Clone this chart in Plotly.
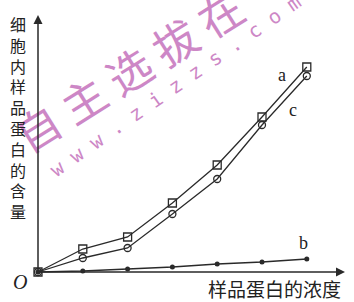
import plotly.graph_objects as go

# Data (arbitrary units)
concentration = [0, 1, 2, 3, 4, 5, 6]
series_a = [0, 2.3, 3.5, 6.9, 10.7, 15.5, 20.5]
series_c = [0, 1.4, 2.4, 5.8, 9.3, 14.7, 19.6]
series_b = [0, 0.1, 0.3, 0.5, 0.8, 1.0, 1.3]
series_names = ["a", "c", "b"]
y_title = "细胞内样品蛋白的含量"
x_title = "样品蛋白的浓度"
watermark_big = "自主选拔在"
watermark_url = "www.zizzs.com"

LINE = "#2a2a2a"
PINK = "rgb(205,135,198)"

fig = go.Figure()
fig.add_trace(go.Scatter(x=concentration, y=series_a, mode="lines+markers",
                         line=dict(color=LINE, width=1.3),
                         marker=dict(symbol="square-open", size=8, color=LINE, line=dict(width=1.3)),
                         cliponaxis=False, showlegend=False))
fig.add_trace(go.Scatter(x=concentration, y=series_c, mode="lines+markers",
                         line=dict(color=LINE, width=1.3),
                         marker=dict(symbol="circle-open", size=7, color=LINE, line=dict(width=1.3)),
                         cliponaxis=False, showlegend=False))
fig.add_trace(go.Scatter(x=concentration, y=series_b, mode="lines+markers",
                         line=dict(color=LINE, width=1.3),
                         marker=dict(symbol="circle", size=5, color=LINE),
                         cliponaxis=False, showlegend=False))

XMAX, YMAX = 6.853, 25.7
ann = []
# watermark
ann.append(dict(x=(128 - 38) / 44.8, y=(272 - 70) / 10, xref="x", yref="y", text=" ".join(watermark_big),
                showarrow=False, textangle=-32,
                font=dict(family="Noto Sans CJK SC", size=44, color=PINK)))
ann.append(dict(x=(175 - 38) / 44.8, y=(272 - 86) / 10, xref="x", yref="y", text=" ".join(watermark_url),
                showarrow=False, textangle=-35,
                font=dict(family="DejaVu Sans Mono", size=20, color=PINK)))
# axes with arrows
ann.append(dict(x=XMAX, y=0, ax=0, ay=0, xref="x", yref="y", axref="x", ayref="y", text="",
                showarrow=True, arrowhead=2, arrowsize=1.2, arrowwidth=1.5, arrowcolor=LINE))
ann.append(dict(x=0, y=YMAX, ax=0, ay=0, xref="x", yref="y", axref="x", ayref="y", text="",
                showarrow=True, arrowhead=2, arrowsize=1.2, arrowwidth=1.5, arrowcolor=LINE))
# series labels
label_pos = {"a": (5.45, 19.7), "c": (5.69, 16.2), "b": (5.92, 2.9)}
for n in series_names:
    ann.append(dict(x=label_pos[n][0], y=label_pos[n][1], xref="x", yref="y", text=n, showarrow=False,
                    font=dict(family="Liberation Serif", size=18, color="#222")))
ann.append(dict(x=-0.4, y=-1.0, xref="x", yref="y", text="<i>O</i>", showarrow=False,
                font=dict(family="Liberation Serif", size=20, color="#222")))
ann.append(dict(x=-0.446, y=15.45, xref="x", yref="y", text="<br>".join(y_title), showarrow=False,
                font=dict(family="Noto Sans CJK SC", size=16, color="#222")))
ann.append(dict(x=5.27, y=-1.65, xref="x", yref="y", text=x_title, showarrow=False,
                font=dict(family="Noto Sans CJK SC", size=19, color="#222")))

fig.update_layout(
    width=354, height=302,
    margin=dict(l=0, r=0, t=0, b=0),
    paper_bgcolor="white", plot_bgcolor="white",
    xaxis=dict(range=[-38 / 44.8, (354 - 38) / 44.8], visible=False),
    yaxis=dict(range=[-3.0, 27.2], visible=False),
    annotations=ann,
)
fig.write_html("out.html", config={"displayModeBar": False},
               post_script="document.body.style.margin='0';")
